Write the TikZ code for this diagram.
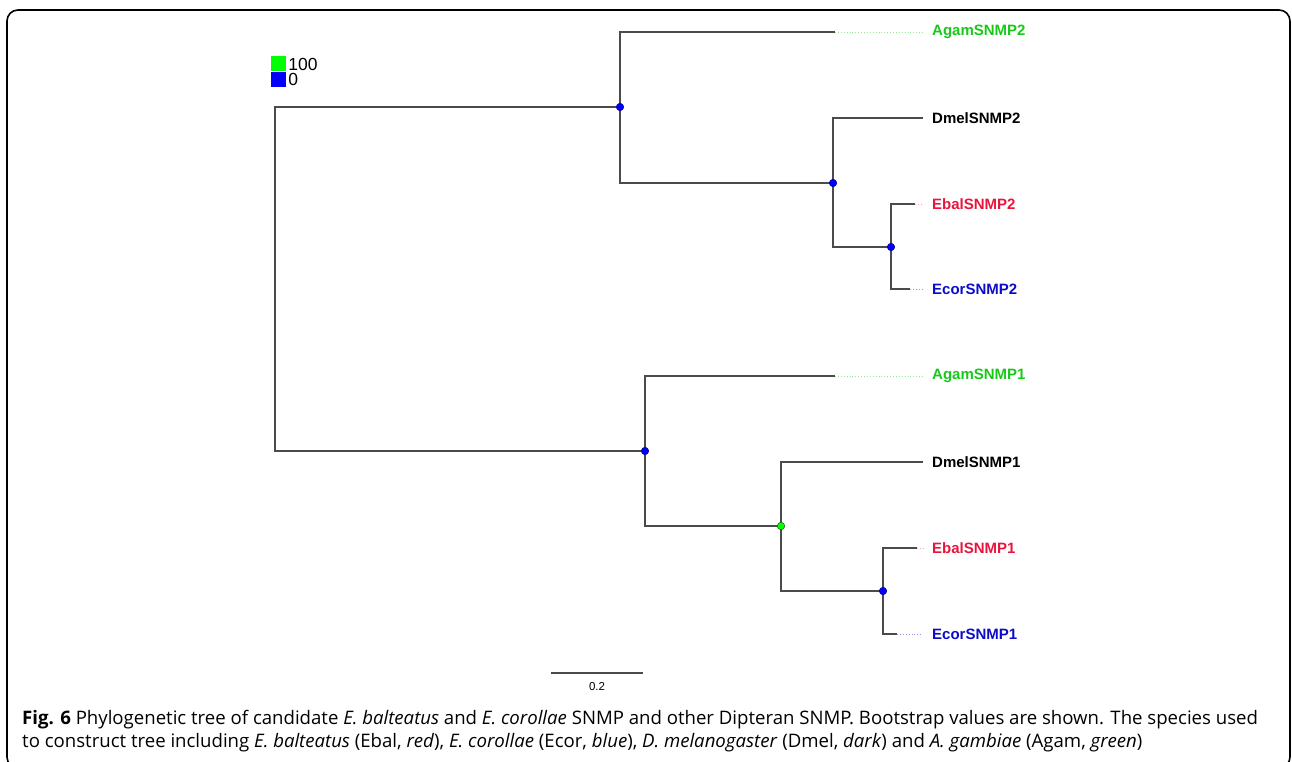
\documentclass[tikz,border=0pt]{standalone}
\usepackage{fontspec}
\setmainfont{Liberation Sans}
\newfontfamily\capfont{Open Sans}
\usetikzlibrary{positioning}

\definecolor{agamgreen}{RGB}{25,200,25}
\definecolor{ebalred}{RGB}{232,22,62}
\definecolor{ecorblue}{RGB}{12,12,200}
\definecolor{branchgray}{RGB}{75,75,75}

\tikzset{
  branch/.style={draw=branchgray, line width=1.6pt},
  tipline/.style={dotted, line width=0.9pt, shorten >=9pt},
  taxon/.style={font=\fontsize{15}{15}\selectfont\bfseries, anchor=west, inner sep=0pt},
  bootblue/.style={circle, fill=blue, draw=blue!55!black, line width=0.5pt, inner sep=0pt, minimum size=7.5pt},
  bootgreen/.style={bootblue, fill=green, draw=green!40!black},
  keybox/.style={inner sep=0pt, minimum size=15pt},
  captext/.style={anchor=base west, inner sep=0pt, font=\capfont\fontsize{18.6}{23}\selectfont}
}

\begin{document}
\begin{tikzpicture}[x=1pt,y=-1pt]
\useasboundingbox (0,0) rectangle (1292,762);
% frame
\draw[line width=1.6pt, rounded corners=11pt] (7,10) rectangle (1290,768);

% legend
\node[keybox, fill=green] (key100) at (278.5,64) {};
\node[keybox, fill=blue, below=0pt of key100] (key0) {};
\node[anchor=west, inner sep=0pt, font=\fontsize{17.5}{17}\selectfont] at ([xshift=2pt]key100.east) {100};
\node[anchor=west, inner sep=0pt, font=\fontsize{17.5}{17}\selectfont] at ([xshift=2pt]key0.east) {0};

% internal nodes
\coordinate (root) at (275,279);
\coordinate (n2) at (620,107);
\coordinate (n2b) at (833,183);
\coordinate (n2c) at (891,247);
\coordinate (n1) at (645,451);
\coordinate (n1b) at (781,526);
\coordinate (n1c) at (883,591);

% branch ends
\coordinate (e-agam2) at (835,32);
\coordinate (e-dmel2) at (923,118);
\coordinate (e-ebal2) at (915,204);
\coordinate (e-ecor2) at (910,289);
\coordinate (e-agam1) at (835,376);
\coordinate (e-dmel1) at (923,462);
\coordinate (e-ebal1) at (917,548);
\coordinate (e-ecor1) at (897,634);

% taxa
\node[taxon, text=agamgreen] (agam2) at (932,32) {AgamSNMP2};
\node[taxon] (dmel2) at (932,118) {DmelSNMP2};
\node[taxon, text=ebalred] (ebal2) at (932,204) {EbalSNMP2};
\node[taxon, text=ecorblue] (ecor2) at (932,289) {EcorSNMP2};
\node[taxon, text=agamgreen] (agam1) at (932,376) {AgamSNMP1};
\node[taxon] (dmel1) at (932,462) {DmelSNMP1};
\node[taxon, text=ebalred] (ebal1) at (932,548) {EbalSNMP1};
\node[taxon, text=ecorblue] (ecor1) at (932,634) {EcorSNMP1};

% tree
\draw[branch] (n2) -| (root) |- (n1);
\draw[branch] (e-agam2) -| (n2) |- (n2b);
\draw[branch] (e-dmel2) -| (n2b) |- (n2c);
\draw[branch] (e-ebal2) -| (n2c) |- (e-ecor2);
\draw[branch] (e-agam1) -| (n1) |- (n1b);
\draw[branch] (e-dmel1) -| (n1b) |- (n1c);
\draw[branch] (e-ebal1) -| (n1c) |- (e-ecor1);

% dotted tips
\draw[tipline, agamgreen!45] (e-agam2) -- (agam2.west);
\draw[tipline, ebalred!40] (e-ebal2) -- (ebal2.west);
\draw[tipline, ecorblue!45] (e-ecor2) -- (ecor2.west);
\draw[tipline, agamgreen!45] (e-agam1) -- (agam1.west);
\draw[tipline, ebalred!40] (e-ebal1) -- (ebal1.west);
\draw[tipline, ecorblue!45] (e-ecor1) -- (ecor1.west);

% bootstrap
\node[bootblue] at (n2) {};
\node[bootblue] at (n2b) {};
\node[bootblue] at (n2c) {};
\node[bootblue] at (n1) {};
\node[bootgreen] at (n1b) {};
\node[bootblue] at (n1c) {};

% scale bar
\coordinate (sb-l) at (551,673);
\coordinate (sb-r) at (643,673);
\draw[branch] (sb-l) -- node[below=9pt, inner sep=0pt, font=\fontsize{11.5}{12}\selectfont] (sb-txt) {0.2} (sb-r);

% caption
\node[captext] (cap1) at (22,724) {\textbf{Fig. 6} Phylogenetic tree of candidate \textit{E. balteatus} and \textit{E. corollae} SNMP and other Dipteran SNMP. Bootstrap values are shown. The species used};
\node[captext] (cap2) at (22,747) {to construct tree including \textit{E. balteatus} (Ebal, \textit{red}), \textit{E. corollae} (Ecor, \textit{blue}), \textit{D. melanogaster} (Dmel, \textit{dark}) and \textit{A. gambiae} (Agam, \textit{green})};
\end{tikzpicture}
\end{document}
